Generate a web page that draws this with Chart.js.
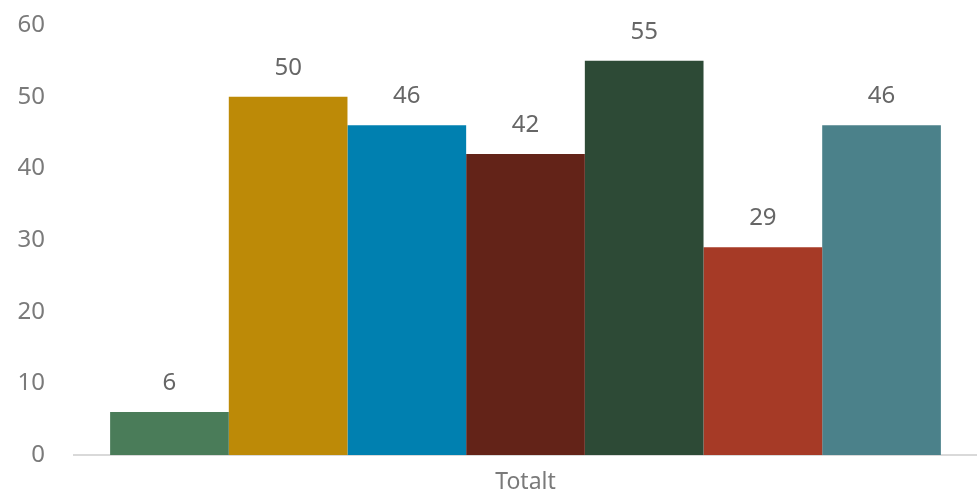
<!DOCTYPE html>
<html>
<head>
    <title>Totalt</title>
    <script src="https://cdn.jsdelivr.net/npm/chart.js"></script>
    <style>
        html, body {
            margin: 0;
            padding: 0;
            background: #ffffff;
            overflow: hidden;
        }

        #chartBox {
            width: 977px;
            height: 496px;
        }
    </style>
</head>
<body>
    <div id="chartBox">
        <canvas id="totalChart"></canvas>
    </div>
    <script>
        const categories = ['Totalt'];
        const seriesNames = ['Serie 1', 'Serie 2', 'Serie 3', 'Serie 4', 'Serie 5', 'Serie 6', 'Serie 7'];
        const seriesValues = [6, 50, 46, 42, 55, 29, 46];
        const seriesColors = ['#4a7c59', '#bd8a07', '#0080b0', '#632318', '#2d4a36', '#a63a26', '#4b818a'];
        const yTicks = [0, 10, 20, 30, 40, 50, 60];

        const textColor = '#7a7a7a';
        const fontFamily = '"Noto Sans", sans-serif';

        // draws the value above each bar
        const valueLabels = {
            id: 'valueLabels',
            afterDatasetsDraw(chart) {
                const ctx = chart.ctx;
                ctx.save();
                ctx.font = '24px ' + fontFamily;
                ctx.fillStyle = '#666666';
                ctx.textAlign = 'center';
                ctx.textBaseline = 'alphabetic';
                chart.data.datasets.forEach((ds, i) => {
                    const meta = chart.getDatasetMeta(i);
                    meta.data.forEach((bar, j) => {
                        ctx.fillText(ds.data[j], bar.x, bar.y - 22);
                    });
                });
                ctx.restore();
            }
        };

        const datasets = seriesNames.map((name, i) => ({
            label: name,
            data: [seriesValues[i]],
            backgroundColor: seriesColors[i],
            borderWidth: 0,
        }));

        const ctx = document.getElementById('totalChart').getContext('2d');
        new Chart(ctx, {
            type: 'bar',
            data: {
                labels: categories,
                datasets: datasets,
            },
            options: {
                responsive: true,
                maintainAspectRatio: false,
                animation: false,
                layout: {
                    padding: { top: 25, left: 0, right: 0, bottom: 0 },
                },
                datasets: {
                    bar: {
                        categoryPercentage: 0.92,
                        barPercentage: 1.0,
                    },
                },
                plugins: {
                    legend: { display: false },
                    tooltip: { enabled: false },
                },
                scales: {
                    x: {
                        afterFit(axis) {
                            axis.height = 41;
                            axis.paddingLeft = 0;
                            axis.paddingRight = 0;
                        },
                        grid: { display: false, drawTicks: false },
                        border: { display: true, color: '#d9d9d9', width: 2 },
                        ticks: {
                            color: textColor,
                            font: { family: fontFamily, size: 23 },
                            padding: 14,
                        },
                    },
                    y: {
                        min: 0,
                        max: 60,
                        afterBuildTicks(axis) {
                            axis.ticks = yTicks.map(v => ({ value: v }));
                        },
                        afterFit(axis) {
                            axis.width = 74;
                            axis.paddingTop = 0;
                            axis.paddingBottom = 0;
                        },
                        grid: { display: false, drawTicks: false },
                        border: { display: false },
                        ticks: {
                            color: textColor,
                            font: { family: fontFamily, size: 24 },
                            padding: 29,
                        },
                    },
                },
            },
            plugins: [valueLabels],
        });
    </script>
</body>
</html>
